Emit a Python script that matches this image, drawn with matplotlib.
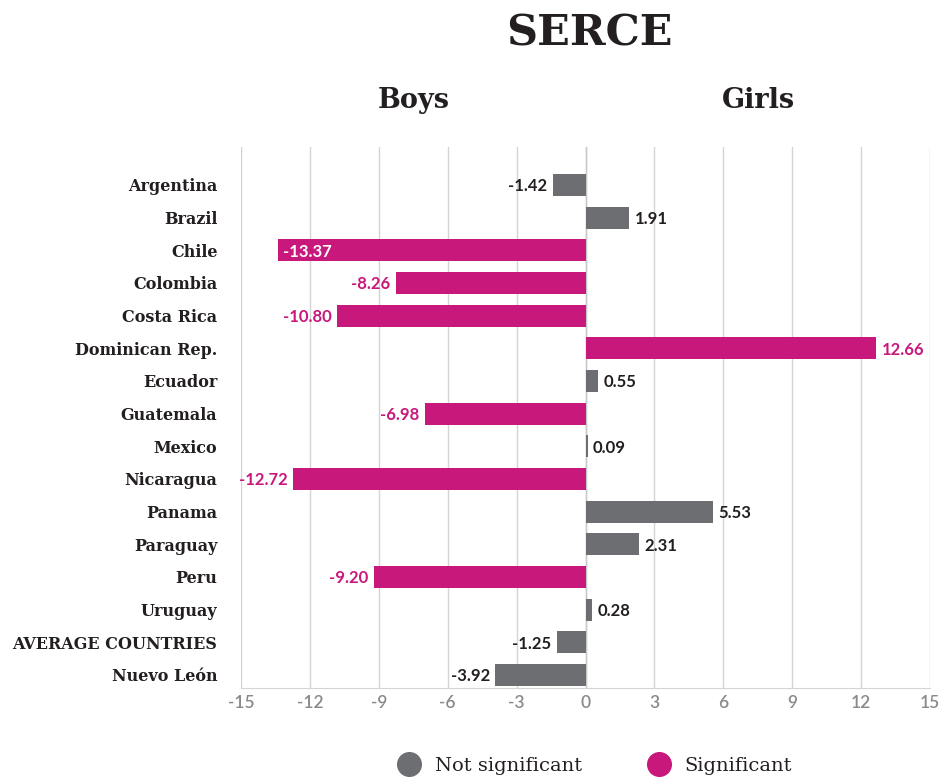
import matplotlib.pyplot as plt
from matplotlib.lines import Line2D

countries = ["Argentina", "Brazil", "Chile", "Colombia", "Costa Rica", "Dominican Rep.",
             "Ecuador", "Guatemala", "Mexico", "Nicaragua", "Panama", "Paraguay", "Peru",
             "Uruguay", "AVERAGE COUNTRIES", "Nuevo León"]
values = [-1.42, 1.91, -13.37, -8.26, -10.80, 12.66, 0.55, -6.98, 0.09, -12.72,
          5.53, 2.31, -9.20, 0.28, -1.25, -3.92]
significant = [False, False, True, True, True, True, False, True, False, True,
               False, False, True, False, False, False]
xticks = [-15, -12, -9, -6, -3, 0, 3, 6, 9, 12, 15]

GRAY = "#6d6e71"
MAGENTA = "#c8187b"
DARK = "#231f20"
SERIF = "DejaVu Serif"
SANS = "Lato"

fig = plt.figure(figsize=(9.41, 7.77), dpi=100)
ax = fig.add_axes([241 / 941, 1 - 688 / 777, (930 - 241) / 941, (688 - 147) / 777])

ypos = list(range(len(countries)))
colors = [MAGENTA if s else GRAY for s in significant]
ax.barh(ypos, values, height=0.67, color=colors, zorder=3)

for y, v, s in zip(ypos, values, significant):
    txt = f"{v:.2f}"
    col = MAGENTA if s else DARK
    if v < -13:
        # label fits inside the bar
        ax.annotate(txt, (v, y), xytext=(3, -1), textcoords="offset points",
                    ha="left", va="center", color="white", fontsize=12,
                    fontweight="bold", family=SANS, zorder=4)
    elif v < 0:
        ax.annotate(txt, (v, y), xytext=(-4, -1), textcoords="offset points",
                    ha="right", va="center", color=col, fontsize=12,
                    fontweight="bold", family=SANS, annotation_clip=False, zorder=4)
    else:
        ax.annotate(txt, (v, y), xytext=(4, -1), textcoords="offset points",
                    ha="left", va="center", color=col, fontsize=12,
                    fontweight="bold", family=SANS, annotation_clip=False, zorder=4)

ax.set_xlim(-15, 15)
ax.set_ylim(len(countries) - 1 + 0.4, -1.16)
ax.set_xticks(xticks)
ax.set_xticklabels([str(t) for t in xticks], family=SANS, fontsize=12.5,
                   fontweight="semibold", color="#8a8a8a")
ax.set_yticks(ypos)
ax.set_yticklabels(countries, family=SERIF, fontweight="bold", fontsize=11.5, color=DARK)
ax.tick_params(axis="y", length=0, pad=17)
ax.tick_params(axis="x", length=0, pad=5)
ax.grid(axis="x", color="#d4d4d4", linewidth=1, zorder=0)
for side in ["top", "right", "left"]:
    ax.spines[side].set_visible(False)
ax.spines["bottom"].set_color("#d4d4d4")
ax.axvline(0, color="#c8c8c8", linewidth=1, zorder=2)

fig.text(589 / 941, 1 - 33 / 777, "SERCE", family=SERIF, fontweight="bold",
         fontsize=31, color=DARK, ha="center", va="center")
fig.text(414 / 941, 1 - 101 / 777, "Boys", family=SERIF, fontweight="bold",
         fontsize=19.5, color=DARK, ha="center", va="center")
fig.text(758 / 941, 1 - 101 / 777, "Girls", family=SERIF, fontweight="bold",
         fontsize=19.5, color=DARK, ha="center", va="center")

handles = [Line2D([], [], marker="o", linestyle="none", markersize=17, color=GRAY),
           Line2D([], [], marker="o", linestyle="none", markersize=17, color=MAGENTA)]
fig.legend(handles, ["Not significant", "Significant"], loc="center",
           bbox_to_anchor=(591 / 941, 1 - 766 / 777), ncol=2, frameon=False,
           prop={"family": SERIF, "size": 14}, handletextpad=0.3, columnspacing=3.0,
           labelcolor=DARK)

fig.savefig("out.png", dpi=100)
